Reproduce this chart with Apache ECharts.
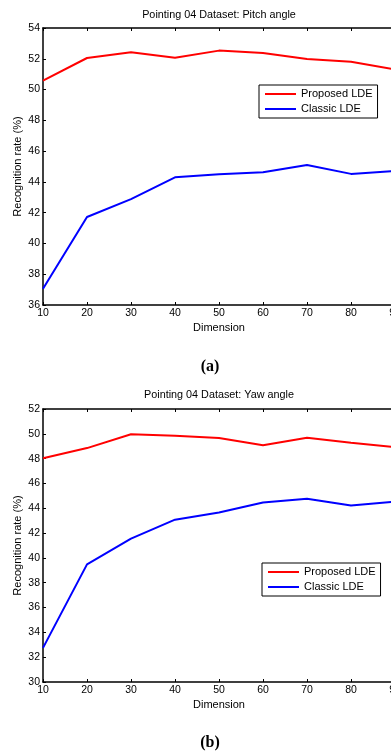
<!DOCTYPE html>
<html>
<head>
<meta charset="utf-8">
<script src="https://cdn.jsdelivr.net/npm/echarts@6/dist/echarts.min.js"></script>
<style>
  html, body { margin: 0; padding: 0; background: #fff; }
  #chart { width: 391px; height: 755px; }
</style>
</head>
<body>
<div id="chart"></div>
<script>
var dims = [10, 20, 30, 40, 50, 60, 70, 80, 90];
var seriesNames = ['Proposed LDE', 'Classic LDE'];

// (a) pitch angle
var pitchProposed = [50.58, 52.05, 52.42, 52.07, 52.53, 52.38, 51.98, 51.8, 51.3];
var pitchClassic  = [37.06, 41.72, 42.88, 44.3, 44.5, 44.62, 45.1, 44.52, 44.7];

// (b) yaw angle
var yawProposed = [48.03, 48.85, 49.97, 49.84, 49.66, 49.07, 49.68, 49.28, 48.92];
var yawClassic  = [32.75, 39.48, 41.55, 43.08, 43.66, 44.46, 44.76, 44.22, 44.53];

var titles = ['Pointing 04 Dataset: Pitch angle', 'Pointing 04 Dataset: Yaw angle'];
var captions = ['(a)', '(b)'];

function pairs(ys) {
  return dims.map(function (d, i) { return [d, ys[i]]; });
}

var chartDom = document.getElementById('chart');
var myChart = echarts.init(chartDom, null, { renderer: 'canvas' });
var font = 'Liberation Sans, Arial, sans-serif';
var axisLine = { show: true, onZero: false, lineStyle: { color: '#000', width: 1.5 } };
var tick = { show: true, inside: true, length: 3, lineStyle: { color: '#000', width: 1 } };
var label = { color: '#000', fontSize: 10.5, fontFamily: font, margin: 3 };

function xAxes(gi) {
  return [
    {
      type: 'value', gridIndex: gi, min: 10, max: 90, interval: 10,
      name: 'Dimension', nameLocation: 'middle', nameGap: 17, nameMoveOverlap: false,
      nameTextStyle: { color: '#000', fontSize: 11, fontFamily: font },
      axisLine: axisLine, axisTick: tick, axisLabel: label, splitLine: { show: false }
    },
    {
      type: 'value', gridIndex: gi, position: 'top', min: 10, max: 90, interval: 10,
      axisLine: axisLine, axisTick: tick, axisLabel: { show: false }, splitLine: { show: false }
    }
  ];
}

function yAxis(gi, min, max) {
  return {
    type: 'value', gridIndex: gi, min: min, max: max, interval: 2,
    name: 'Recognition rate (%)', nameLocation: 'middle', nameGap: 20, nameMoveOverlap: false,
    nameTextStyle: { color: '#000', fontSize: 11, fontFamily: font },
    axisLine: axisLine, axisTick: tick, axisLabel: label, splitLine: { show: false }
  };
}

function line(name, gi, ys, color) {
  return {
    type: 'line', name: name, xAxisIndex: gi * 2, yAxisIndex: gi,
    data: pairs(ys), showSymbol: false, symbol: 'none',
    lineStyle: { color: color, width: 2 }, itemStyle: { color: color },
    animation: false
  };
}

function legend(left, top) {
  return {
    orient: 'vertical', left: left, top: top,
    data: seriesNames, icon: 'rect', itemWidth: 31, itemHeight: 2, itemGap: 3,
    padding: [3, 5, 3, 6], borderColor: '#000', borderWidth: 1, backgroundColor: '#fff',
    textStyle: { color: '#000', fontSize: 11, fontFamily: font, lineHeight: 12 },
    selectedMode: false
  };
}

function text(str, x, y, f) {
  return {
    type: 'text', x: x, y: y, silent: true,
    style: { text: str, textAlign: 'center', textVerticalAlign: 'middle', font: f, fill: '#000' }
  };
}

var option = {
  animation: false,
  grid: [
    { left: 43, top: 28, width: 352, height: 277, outerBoundsMode: 'none', containLabel: false },
    { left: 43, top: 409, width: 352, height: 273, outerBoundsMode: 'none', containLabel: false }
  ],
  xAxis: xAxes(0).concat(xAxes(1)),
  yAxis: [yAxis(0, 36, 54), yAxis(1, 30, 52)],
  legend: [legend(259, 85), legend(262, 563)],
  series: [
    line(seriesNames[0], 0, pitchProposed, '#ff0000'),
    line(seriesNames[1], 0, pitchClassic, '#0000ff'),
    line(seriesNames[0], 1, yawProposed, '#ff0000'),
    line(seriesNames[1], 1, yawClassic, '#0000ff')
  ],
  graphic: [
    text(titles[0], 219, 15, '10.8px ' + font),
    text(titles[1], 219, 395, '10.8px ' + font),
    text(captions[0], 210, 367, 'bold 16px Liberation Serif, Times New Roman, serif'),
    text(captions[1], 210, 743, 'bold 16px Liberation Serif, Times New Roman, serif')
  ]
};

option && myChart.setOption(option);
</script>
</body>
</html>
